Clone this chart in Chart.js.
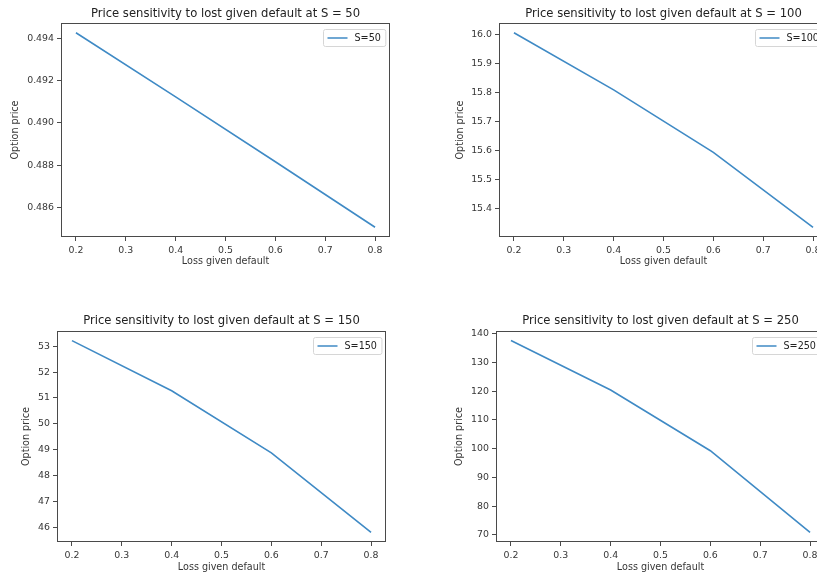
<!DOCTYPE html>
<html>
<head>
<meta charset="utf-8">
<script src="https://cdn.jsdelivr.net/npm/chart.js@4.4.1/dist/chart.umd.min.js"></script>
<style>
  html, body { margin: 0; padding: 0; background: #fff; overflow: hidden; width: 817px; height: 577px; position: relative; }
</style>
</head>
<body>
<script>
// ---------- DATA ----------
const lossGivenDefault = [0.2, 0.4, 0.6, 0.8];
const priceS50  = [0.49428, 0.49124, 0.48816, 0.48505];
const priceS100 = [16.007, 15.810, 15.595, 15.337];
const priceS150 = [53.22, 51.28, 48.88, 45.80];
const priceS250 = [137.6, 120.4, 99.3, 70.9];
const spotLevels = [50, 100, 150, 250];

const xTicks = [0.2, 0.3, 0.4, 0.5, 0.6, 0.7, 0.8];
const yTicksS50  = [0.486, 0.488, 0.490, 0.492, 0.494];
const yTicksS100 = [15.4, 15.5, 15.6, 15.7, 15.8, 15.9, 16.0];
const yTicksS150 = [46, 47, 48, 49, 50, 51, 52, 53];
const yTicksS250 = [70, 80, 90, 100, 110, 120, 130, 140];

const xLabel = 'Loss given default';
const yLabel = 'Option price';

// ---------- STYLE ----------
const FONT = '"DejaVu Sans", "Liberation Sans", sans-serif';
const LINE_COLOR = '#3f8ac5';
const AXIS_COLOR = '#4a4a4a';
const TEXT_COLOR = '#363636';

const framePlugin = {
  id: 'frame',
  afterDatasetsDraw(chart) {
    const { ctx, chartArea: a } = chart;
    ctx.save();
    ctx.strokeStyle = AXIS_COLOR;
    ctx.lineWidth = 1;
    ctx.strokeRect(Math.round(a.left) + 0.5, Math.round(a.top) + 0.5,
                   Math.round(a.right - a.left) - 1, Math.round(a.bottom - a.top) - 1);
    ctx.restore();
  }
};

const insideLegend = {
  id: 'insideLegend',
  afterDraw(chart) {
    const ds = chart.data.datasets[0];
    const { ctx, chartArea: a } = chart;
    ctx.save();
    ctx.font = '9.6px ' + FONT;
    const tw = ctx.measureText(ds.label).width;
    const w = 4 + 20 + 7 + tw + 5, h = 17;
    const x = Math.round(a.right - 5 - w) + 0.5, y = Math.round(a.top + 6) + 0.5;
    const r = 2;
    ctx.beginPath();
    ctx.moveTo(x + r, y);
    ctx.lineTo(x + w - r, y); ctx.quadraticCurveTo(x + w, y, x + w, y + r);
    ctx.lineTo(x + w, y + h - r); ctx.quadraticCurveTo(x + w, y + h, x + w - r, y + h);
    ctx.lineTo(x + r, y + h); ctx.quadraticCurveTo(x, y + h, x, y + h - r);
    ctx.lineTo(x, y + r); ctx.quadraticCurveTo(x, y, x + r, y);
    ctx.closePath();
    ctx.fillStyle = 'rgba(255,255,255,0.85)';
    ctx.fill();
    ctx.strokeStyle = '#d6d6d6';
    ctx.lineWidth = 1;
    ctx.stroke();
    ctx.beginPath();
    ctx.strokeStyle = ds.borderColor;
    ctx.lineWidth = 1.5;
    ctx.moveTo(x + 4, y + h / 2);
    ctx.lineTo(x + 24, y + h / 2);
    ctx.stroke();
    ctx.fillStyle = '#222';
    ctx.textBaseline = 'middle';
    ctx.textAlign = 'left';
    ctx.fillText(ds.label, x + 31, y + h / 2 + 0.5);
    ctx.restore();
  }
};

function makePanel(p) {
  const canvas = document.createElement('canvas');
  canvas.width = p.cw; canvas.height = p.ch;
  canvas.style.cssText = `position:absolute;left:${p.cx}px;top:${p.cy}px;width:${p.cw}px;height:${p.ch}px;`;
  document.body.appendChild(canvas);

  const lo = Math.min(...p.values), hi = Math.max(...p.values);
  const m = (hi - lo) * 0.05;
  const xlo = Math.min(...lossGivenDefault), xhi = Math.max(...lossGivenDefault);
  const xm = (xhi - xlo) * 0.05;

  const tickFont = { family: FONT, size: 9.4 };
  const labFont = { family: FONT, size: 9.6, lineHeight: 1.2 };
  const labLH = 9.6 * 1.2;
  const titleSize = 11.6;

  new Chart(canvas, {
    type: 'line',
    data: {
      datasets: [{
        label: 'S=' + p.spot,
        data: lossGivenDefault.map((x, i) => ({ x: x, y: p.values[i] })),
        borderColor: LINE_COLOR,
        backgroundColor: LINE_COLOR,
        borderWidth: 1.6,
        pointRadius: 0,
        tension: 0,
        fill: false
      }]
    },
    options: {
      responsive: false,
      animation: false,
      devicePixelRatio: 1,
      layout: { padding: { left: 0, top: 0, bottom: 0, right: p.cx + p.cw - p.axR } },
      plugins: {
        legend: { display: false },
        tooltip: { enabled: false },
        title: {
          display: true,
          fullSize: false,
          text: 'Price sensitivity to lost given default at S = ' + p.spot,
          color: '#222',
          font: { family: FONT, size: titleSize, weight: 'normal', lineHeight: 1 },
          padding: { top: p.titleY - p.cy - titleSize / 2, bottom: p.axT - p.titleY - titleSize / 2 }
        }
      },
      scales: {
        x: {
          type: 'linear',
          min: xlo - xm,
          max: xhi + xm,
          afterBuildTicks: (s) => { s.ticks = xTicks.map(v => ({ value: v })); },
          afterFit: (s) => { s.height = p.cy + p.ch - p.axB; },
          border: { display: false },
          grid: { drawOnChartArea: false, drawTicks: true, tickLength: 4, color: AXIS_COLOR, lineWidth: 1 },
          ticks: { autoSkip: false, maxRotation: 0, padding: 3.5, color: TEXT_COLOR, font: tickFont,
                   callback: (v) => Number(v).toFixed(1) },
          title: { display: true, text: xLabel, color: TEXT_COLOR, font: labFont,
                   padding: { top: 0, bottom: p.cy + p.ch - p.xlabY - labLH / 2 } }
        },
        y: {
          type: 'linear',
          min: lo - m,
          max: hi + m,
          afterBuildTicks: (s) => { s.ticks = p.yTicks.map(v => ({ value: v })); },
          afterFit: (s) => { s.width = p.axL - p.cx; },
          border: { display: false },
          grid: { drawOnChartArea: false, drawTicks: true, tickLength: 4, color: AXIS_COLOR, lineWidth: 1 },
          ticks: { autoSkip: false, padding: 3, color: TEXT_COLOR, font: tickFont,
                   callback: (v) => Number(v).toFixed(p.dec) },
          title: { display: true, text: yLabel, color: TEXT_COLOR, font: labFont,
                   padding: { top: p.ylabX - p.cx - labLH / 2, bottom: 0 } }
        }
      }
    },
    plugins: [framePlugin, insideLegend]
  });
}

const panels = [
  { spot: spotLevels[0], values: priceS50,  yTicks: yTicksS50,  dec: 3,
    cx: 0,   cy: 0,   cw: 408, ch: 290, axL: 61,  axR: 390, axT: 23,  axB: 237, titleY: 14,    xlabY: 261.5, ylabX: 15 },
  { spot: spotLevels[1], values: priceS100, yTicks: yTicksS100, dec: 1,
    cx: 408, cy: 0,   cw: 430, ch: 290, axL: 499, axR: 828, axT: 23,  axB: 237, titleY: 14,    xlabY: 261.5, ylabX: 460 },
  { spot: spotLevels[2], values: priceS150, yTicks: yTicksS150, dec: 0,
    cx: 0,   cy: 290, cw: 408, ch: 287, axL: 57,  axR: 386, axT: 331, axB: 542, titleY: 320.7, xlabY: 567,   ylabX: 26.7 },
  { spot: spotLevels[3], values: priceS250, yTicks: yTicksS250, dec: 0,
    cx: 408, cy: 290, cw: 430, ch: 287, axL: 496, axR: 825, axT: 331, axB: 542, titleY: 320.7, xlabY: 567,   ylabX: 459.5 }
];

panels.forEach(makePanel);
</script>
</body>
</html>
